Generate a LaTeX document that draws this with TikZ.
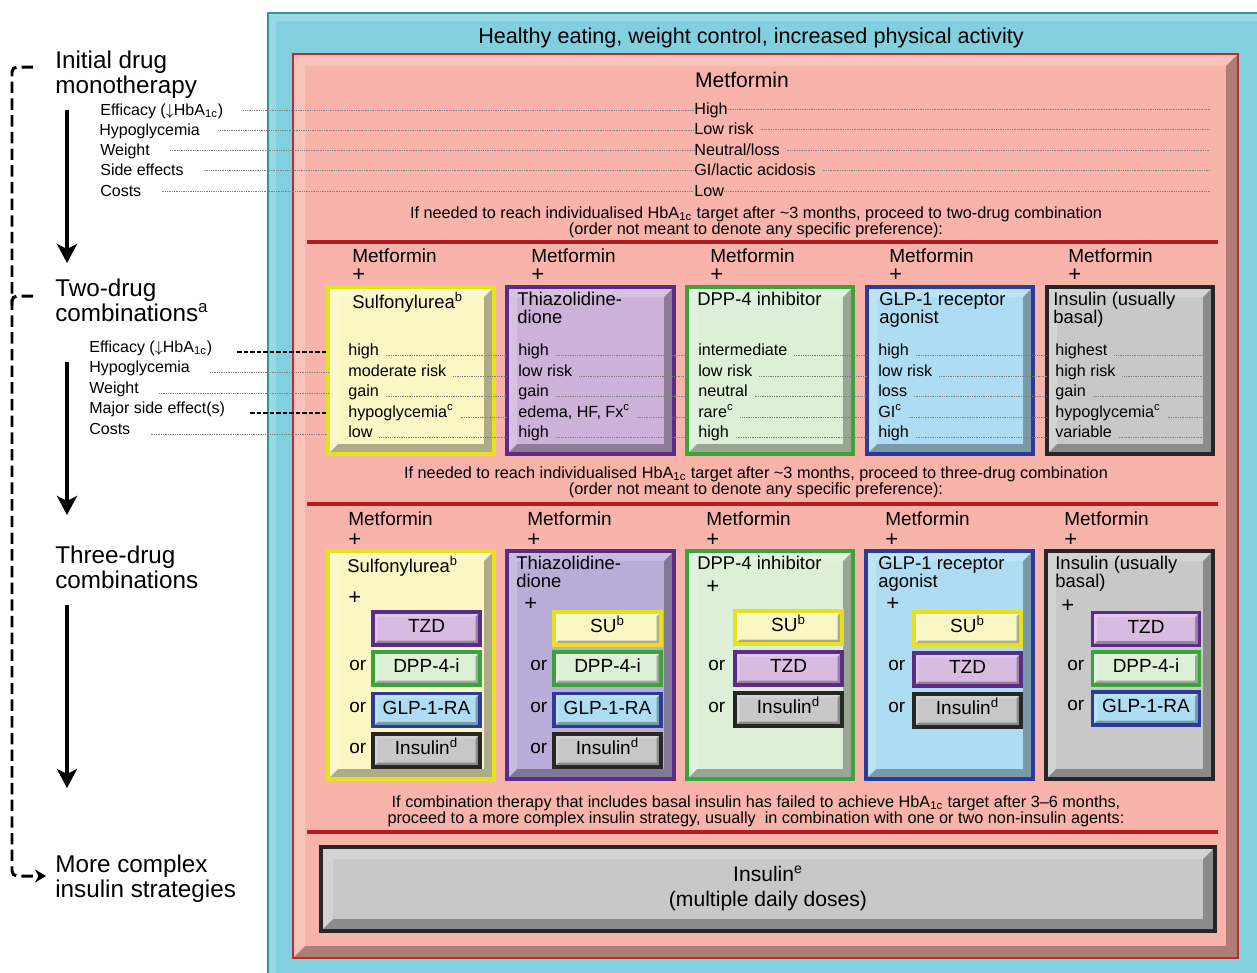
\documentclass[tikz,border=0pt]{standalone}
\usepackage{fontspec}
\setmainfont{Liberation Sans}
\usepackage{xcolor}
\usepackage{tikz}
\usetikzlibrary{arrows.meta}

\definecolor{tealfill}{HTML}{80D0E0}
\definecolor{tealline}{HTML}{2A9A9C}
\definecolor{salmon}{HTML}{F8B4AA}
\definecolor{redline}{HTML}{C02A2C}
\definecolor{barred}{HTML}{B01C22}
\definecolor{yelline}{HTML}{E6E11E}
\definecolor{yelfill}{HTML}{FAF7C4}
\definecolor{purline}{HTML}{5B2C86}
\definecolor{purfill}{HTML}{CDB1D9}
\definecolor{purfillb}{HTML}{B9ACD9}
\definecolor{chipfill}{HTML}{D9BBE1}
\definecolor{grnline}{HTML}{3CA23C}
\definecolor{grnfill}{HTML}{DDEFD6}
\definecolor{bluline}{HTML}{2C3A98}
\definecolor{blufill}{HTML}{AEDDF3}
\definecolor{gryline}{HTML}{262626}
\definecolor{gryfill}{HTML}{C8C8C8}

\newcommand{\fsz}[2]{\fontsize{#1}{#2}\selectfont}

\tikzset{
  bevel/.style={path picture={
    \fill[black,opacity=.3] (path picture bounding box.south west)
      -- (path picture bounding box.south east)
      -- (path picture bounding box.north east)
      -- ([shift={(-#1,-#1)}]path picture bounding box.north east)
      -- ([shift={(-#1,#1)}]path picture bounding box.south east)
      -- ([shift={(#1,#1)}]path picture bounding box.south west) -- cycle;
    \fill[white,opacity=.2] (path picture bounding box.south west)
      -- (path picture bounding box.north west)
      -- (path picture bounding box.north east)
      -- ([shift={(-#1,-#1)}]path picture bounding box.north east)
      -- ([shift={(#1,-#1)}]path picture bounding box.north west)
      -- ([shift={(#1,#1)}]path picture bounding box.south west) -- cycle;}},
  frame/.style 2 args={draw=#1, fill=#2, line width=1.4pt},
  card/.style 2 args={draw=#1, fill=#2, line width=1.8pt, bevel=2mm},
  chip/.style 2 args={draw=#1, fill=#2, line width=2.2pt, bevel=0.9mm,
    minimum width=21.4mm, minimum height=6.6mm, inner sep=0pt,
    text height=.72em, text depth=.25em, font=\fsz{10.8}{12}},
  txt/.style={inner sep=0pt, anchor=base west, text height=.75em, text depth=.2em},
  lab/.style={txt, font=\fsz{9.1}{11}},
  val/.style={txt, font=\fsz{9.2}{11}},
  met/.style={txt, font=\fsz{10.8}{12}},
  ortxt/.style={txt, font=\fsz{10.8}{12}},
  plus/.style={inner sep=0pt, anchor=west, font=\fsz{12.5}{12}},
  ttl/.style={inner sep=0pt, anchor=north west, align=left, font=\fsz{10.5}{10.3}},
  bigtxt/.style={inner sep=0pt, anchor=north west, align=left, font=\fsz{13.8}{13.7}},
  note/.style={inner sep=0pt, anchor=north, align=center, font=\fsz{9.25}{9.4}},
  leader/.style={black!50, line width=0.4pt, dash pattern=on 0.5pt off 0.5pt},
  vlead/.style={leader, shorten <=1.3mm},
  llead/.style={leader, shorten <=4mm},
  dashlead/.style={black, line width=0.6pt, dash pattern=on 2.5pt off 1.2pt, shorten <=5mm},
  redbar/.style={barred, line width=2.6pt},
  loopdash/.style={line width=1.7pt, dash pattern=on 6.5pt off 3pt, rounded corners=1mm},
}

\begin{document}
\begin{tikzpicture}[x=0.2mm,y=-0.2mm]
\useasboundingbox (0,0) rectangle (1257,972);
\clip (0,0) rectangle (1257,972);

% outer frames
\draw[frame={tealline}{tealfill}, bevel=1.6mm] (268,13) rectangle (1270,985);
\draw[frame={redline}{salmon}, bevel=2.4mm] (293,54) rectangle (1238,958);
\node[inner sep=0pt, anchor=base, font=\fsz{12.3}{14}] (hdr) at (751,43) {Healthy eating, weight control, increased physical activity};

% dividers
\draw[redbar] (307,242) -- (1218,242);
\draw[redbar] (307,504) -- (1218,504);
\draw[redbar] (307,832) -- (1218,832);

% left column
\node[bigtxt] (init) at (55,51) {Initial drug\\monotherapy};
\node[bigtxt, font=\fsz{13.8}{14.2}] (two) at (55,279) {Two-drug\\combinations\textsuperscript{a}};
\node[bigtxt] (three) at (55,546) {Three-drug\\combinations};
\node[bigtxt] (more) at (55,855) {More complex\\insulin strategies};
\coordinate (a1) at (67,110); \coordinate (b1) at (67,263);
\coordinate (a2) at (67,362); \coordinate (b2) at (67,515);
\coordinate (a3) at (67,605); \coordinate (b3) at (67,788);
\draw[line width=2.2pt, -{Stealth[width=4mm,length=3.8mm,inset=1mm]}] (a1) -- (b1);
\draw[line width=2.2pt, -{Stealth[width=4mm,length=3.8mm,inset=1mm]}] (a2) -- (b2);
\draw[line width=2.2pt, -{Stealth[width=4mm,length=3.8mm,inset=1mm]}] (a3) -- (b3);
\coordinate (lp0) at (33,67); \coordinate (lp1) at (12,67);
\coordinate (lp2) at (12,876); \coordinate (lp3) at (46,876);
\draw[loopdash, -{Stealth[width=2.6mm,length=2.2mm]}] (lp0) -- (lp1) -- (lp2) -- (lp3);
\draw[loopdash] (33,296) -- (12,296) -- (12,310);

% monotherapy
\node[inner sep=0pt, anchor=base, font=\fsz{12}{14}] (metmono) at (742,87) {Metformin};
\node[lab] (ml1) at (100,115) {Efficacy ($\downarrow$HbA\textsubscript{1c})};
\node[lab] (ml2) at (99,135) {Hypoglycemia};
\node[lab] (ml3) at (100,155) {Weight};
\node[lab] (ml4) at (100,175) {Side effects};
\node[lab] (ml5) at (100,196) {Costs};
\node[val] (mv1) at (694,114) {High};
\node[val] (mv2) at (694,134) {Low risk};
\node[val] (mv3) at (694,155) {Neutral/loss};
\node[val] (mv4) at (694,175) {GI/lactic acidosis};
\node[val] (mv5) at (694,196) {Low};
\coordinate (mend) at (1210,0);
\draw[llead] (ml1.east) -- (ml1.east -| mv1.west);
\draw[llead] (ml2.east) -- (ml2.east -| mv2.west);
\draw[llead] (ml3.east) -- (ml3.east -| mv3.west);
\draw[llead] (ml4.east) -- (ml4.east -| mv4.west);
\draw[llead] (ml5.east) -- (ml5.east -| mv5.west);
\draw[leader] (mv1.east) -- (mv1.east -| mend);
\draw[vlead] (mv2.east) -- (mv2.east -| mend);
\draw[vlead] (mv3.east) -- (mv3.east -| mend);
\draw[vlead] (mv4.east) -- (mv4.east -| mend);
\draw[leader] (mv5.east) -- (mv5.east -| mend);
\node[note] (n1) at (756,206) {If needed to reach individualised HbA\textsubscript{1c} target after \textasciitilde3 months, proceed to two-drug combination\\(order not meant to denote any specific preference):};

% two-drug combinations
\coordinate (sut) at (328,287); \coordinate (tzt) at (507,287);
\coordinate (dpt) at (687,287); \coordinate (glt) at (867,287);
\coordinate (int) at (1047,287); \coordinate (dend) at (1203,0);
\draw[card={yelline}{yelfill}] (sut) rectangle (494,454);
\draw[card={purline}{purfill}] (tzt) rectangle (674,454);
\draw[card={grnline}{grnfill}] (dpt) rectangle (853,454);
\draw[card={bluline}{blufill}] (glt) rectangle (1033,454);
\draw[card={gryline}{gryfill}] (int) rectangle (1213,454);
\node[met] (m2a) at (352,262) {Metformin}; \node[plus] (p2a) at (352,275) {+};
\node[met] (m2b) at (531,262) {Metformin}; \node[plus] (p2b) at (531,275) {+};
\node[met] (m2c) at (710,262) {Metformin}; \node[plus] (p2c) at (710,275) {+};
\node[met] (m2d) at (889,262) {Metformin}; \node[plus] (p2d) at (889,275) {+};
\node[met] (m2e) at (1068,262) {Metformin}; \node[plus] (p2e) at (1068,275) {+};
\node[ttl] (t2a) at (352,292) {Sulfonylurea\textsuperscript{b}};
\node[ttl] (t2b) at (517,292) {Thiazolidine-\\dione};
\node[ttl] (t2c) at (697,292) {DPP-4 inhibitor};
\node[ttl] (t2d) at (879,292) {GLP-1 receptor\\agonist};
\node[ttl] (t2e) at (1053,292) {Insulin (usually\\basal)};
\node[lab] (dl1) at (89,352) {Efficacy ($\downarrow$HbA\textsubscript{1c})};
\node[lab] (dl2) at (89,372) {Hypoglycemia};
\node[lab] (dl3) at (89,393) {Weight};
\node[lab] (dl4) at (89,413) {Major side effect(s)};
\node[lab] (dl5) at (89,434) {Costs};
\node[val] (su1) at (348,355) {high};
\node[val] (su2) at (348,376) {moderate risk};
\node[val] (su3) at (348,396) {gain};
\node[val] (su4) at (348,417) {hypoglycemia\textsuperscript{c}};
\node[val] (su5) at (348,437) {low};
\node[val] (tz1) at (518,355) {high};
\node[val] (tz2) at (518,376) {low risk};
\node[val] (tz3) at (518,396) {gain};
\node[val] (tz4) at (518,417) {edema, HF, Fx\textsuperscript{c}};
\node[val] (tz5) at (518,437) {high};
\node[val] (dp1) at (698,355) {intermediate};
\node[val] (dp2) at (698,376) {low risk};
\node[val] (dp3) at (698,396) {neutral};
\node[val] (dp4) at (698,417) {rare\textsuperscript{c}};
\node[val] (dp5) at (698,437) {high};
\node[val] (gl1) at (878,355) {high};
\node[val] (gl2) at (878,376) {low risk};
\node[val] (gl3) at (878,396) {loss};
\node[val] (gl4) at (878,417) {GI\textsuperscript{c}};
\node[val] (gl5) at (878,437) {high};
\node[val] (in1) at (1055,355) {highest};
\node[val] (in2) at (1055,376) {high risk};
\node[val] (in3) at (1055,396) {gain};
\node[val] (in4) at (1055,417) {hypoglycemia\textsuperscript{c}};
\node[val] (in5) at (1055,437) {variable};
\draw[dashlead] (dl1.base east) -- (dl1.base east -| sut);
\draw[llead] (dl2.base east) -- (dl2.base east -| sut);
\draw[llead] (dl3.base east) -- (dl3.base east -| sut);
\draw[dashlead] (dl4.base east) -- (dl4.base east -| sut);
\draw[llead] (dl5.base east) -- (dl5.base east -| sut);
\draw[vlead] (su1.base east) -- (su1.base east -| tzt);
\draw[vlead] (su2.base east) -- (su2.base east -| tzt);
\draw[vlead] (su3.base east) -- (su3.base east -| tzt);
\draw[vlead] (su4.base east) -- (su4.base east -| tzt);
\draw[vlead] (su5.base east) -- (su5.base east -| tzt);
\draw[vlead] (tz1.base east) -- (tz1.base east -| dpt);
\draw[vlead] (tz2.base east) -- (tz2.base east -| dpt);
\draw[vlead] (tz3.base east) -- (tz3.base east -| dpt);
\draw[vlead] (tz4.base east) -- (tz4.base east -| dpt);
\draw[vlead] (tz5.base east) -- (tz5.base east -| dpt);
\draw[vlead] (dp1.base east) -- (dp1.base east -| glt);
\draw[vlead] (dp2.base east) -- (dp2.base east -| glt);
\draw[vlead] (dp3.base east) -- (dp3.base east -| glt);
\draw[vlead] (dp4.base east) -- (dp4.base east -| glt);
\draw[vlead] (dp5.base east) -- (dp5.base east -| glt);
\draw[vlead] (gl1.base east) -- (gl1.base east -| int);
\draw[vlead] (gl2.base east) -- (gl2.base east -| int);
\draw[vlead] (gl3.base east) -- (gl3.base east -| int);
\draw[vlead] (gl4.base east) -- (gl4.base east -| int);
\draw[vlead] (gl5.base east) -- (gl5.base east -| int);
\draw[vlead] (in1.base east) -- (in1.base east -| dend);
\draw[vlead] (in2.base east) -- (in2.base east -| dend);
\draw[vlead] (in3.base east) -- (in3.base east -| dend);
\draw[vlead] (in4.base east) -- (in4.base east -| dend);
\draw[vlead] (in5.base east) -- (in5.base east -| dend);
\node[note] (n2) at (756,466) {If needed to reach individualised HbA\textsubscript{1c} target after \textasciitilde3 months, proceed to three-drug combination\\(order not meant to denote any specific preference):};

% three-drug combinations
\draw[card={yelline}{yelfill}] (328,551) rectangle (494,779);
\draw[card={purline}{purfillb}] (507,551) rectangle (674,779);
\draw[card={grnline}{grnfill}] (687,551) rectangle (853,779);
\draw[card={bluline}{blufill}] (866,551) rectangle (1033,779);
\draw[card={gryline}{gryfill}] (1046,551) rectangle (1213,779);
\node[met] (m3a) at (348,525) {Metformin}; \node[plus] (p3a) at (348,540) {+};
\node[met] (m3b) at (527,525) {Metformin}; \node[plus] (p3b) at (527,540) {+};
\node[met] (m3c) at (706,525) {Metformin}; \node[plus] (p3c) at (706,540) {+};
\node[met] (m3d) at (885,525) {Metformin}; \node[plus] (p3d) at (885,540) {+};
\node[met] (m3e) at (1064,525) {Metformin}; \node[plus] (p3e) at (1064,540) {+};
\node[ttl] (t3a) at (347,556) {Sulfonylurea\textsuperscript{b}};
\node[ttl] (t3b) at (516,556) {Thiazolidine-\\dione};
\node[ttl] (t3c) at (697,556) {DPP-4 inhibitor};
\node[ttl] (t3d) at (878,556) {GLP-1 receptor\\agonist};
\node[ttl] (t3e) at (1055,556) {Insulin (usually\\basal)};
\node[plus] (q3a) at (348,598) {+};
\node[plus] (q3b) at (524,604) {+};
\node[plus] (q3c) at (706,587) {+};
\node[plus] (q3d) at (886,604) {+};
\node[plus] (q3e) at (1061,606) {+};
% sulfonylurea column
\node[chip={purline}{chipfill}] (sa1) at (426.5,628.5) {TZD};
\node[chip={grnline}{grnfill}] (sa2) at (426.5,668.5) {DPP-4-i};
\node[chip={bluline}{blufill}] (sa3) at (426.5,710) {GLP-1-RA};
\node[chip={gryline}{gryfill}] (sa4) at (426.5,750.5) {Insulin\textsuperscript{d}};
\node[ortxt] (so2) at (349,670) {or};
\node[ortxt] (so3) at (349,712) {or};
\node[ortxt] (so4) at (349,753) {or};
% thiazolidinedione column
\node[chip={yelline}{yelfill}] (ta1) at (607.5,628.5) {SU\textsuperscript{b}};
\node[chip={grnline}{grnfill}] (ta2) at (607.5,668.5) {DPP-4-i};
\node[chip={bluline}{blufill}] (ta3) at (607.5,710) {GLP-1-RA};
\node[chip={gryline}{gryfill}] (ta4) at (607.5,750.5) {Insulin\textsuperscript{d}};
\node[ortxt] (to2) at (530,670) {or};
\node[ortxt] (to3) at (530,712) {or};
\node[ortxt] (to4) at (530,753) {or};
% dpp-4 column
\node[chip={yelline}{yelfill}] (da1) at (788.5,627.5) {SU\textsuperscript{b}};
\node[chip={purline}{chipfill}] (da2) at (788.5,668.5) {TZD};
\node[chip={gryline}{gryfill}] (da3) at (788.5,709.5) {Insulin\textsuperscript{d}};
\node[ortxt] (do2) at (708,670) {or};
\node[ortxt] (do3) at (708,712) {or};
% glp-1 column
\node[chip={yelline}{yelfill}] (ga1) at (967.5,628.5) {SU\textsuperscript{b}};
\node[chip={purline}{chipfill}] (ga2) at (967.5,669.5) {TZD};
\node[chip={gryline}{gryfill}] (ga3) at (967.5,710.5) {Insulin\textsuperscript{d}};
\node[ortxt] (go2) at (888,670) {or};
\node[ortxt] (go3) at (888,712) {or};
% insulin column
\node[chip={purline}{chipfill}] (ia1) at (1146,629) {TZD};
\node[chip={grnline}{grnfill}] (ia2) at (1146,668.5) {DPP-4-i};
\node[chip={bluline}{blufill}] (ia3) at (1146,708.5) {GLP-1-RA};
\node[ortxt] (io2) at (1067,670) {or};
\node[ortxt] (io3) at (1067,710) {or};
\node[note] (n3) at (756,795) {If combination therapy that includes basal insulin has failed to achieve HbA\textsubscript{1c} target after 3--6 months,\\proceed to a more complex insulin strategy, usually\ \ in combination with one or two non-insulin agents:};

% complex insulin
\draw[card={gryline}{gryfill}, line width=2.3pt, bevel=2.4mm] (321,847) rectangle (1215,931);
\node[inner sep=0pt, anchor=north, align=center, font=\fsz{12}{14.2}] (ins) at (768,866) {Insulin\textsuperscript{e}\\(multiple daily doses)};
\end{tikzpicture}
\end{document}
